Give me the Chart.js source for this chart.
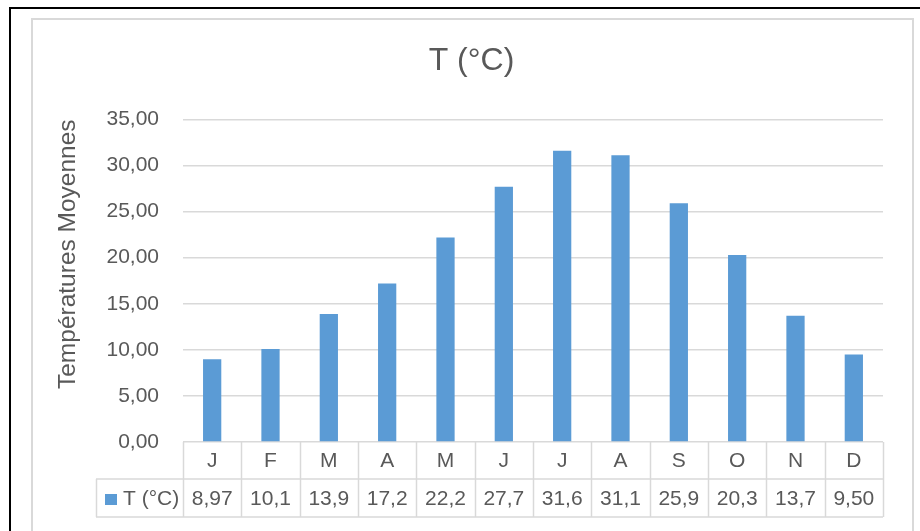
<!DOCTYPE html>
<html>
<head>
<meta charset="utf-8">
<script src="https://cdn.jsdelivr.net/npm/chart.js@4.4.1/dist/chart.umd.min.js"></script>
<style>
    body { margin: 0; background: #fff; width: 920px; height: 531px; overflow: hidden; position: relative; }
    .frame { position: absolute; left: 9px; top: 7px; width: 940px; height: 560px; border-left: 2px solid #000; border-top: 2px solid #000; }
    .box { position: absolute; left: 31px; top: 18px; width: 879px; height: 560px; border: 2px solid #d9d9d9; }
    #myChart { position: absolute; left: 32px; top: 19px; }
</style>
</head>
<body>
<div class="frame"></div>
<div class="box"></div>
<canvas id="myChart" width="879" height="512"></canvas>
<script>
const months = ['J', 'F', 'M', 'A', 'M', 'J', 'J', 'A', 'S', 'O', 'N', 'D']
const temperatures = [8.97, 10.1, 13.9, 17.2, 22.2, 27.7, 31.6, 31.1, 25.9, 20.3, 13.7, 9.50]
const seriesName = 'T (°C)'
const yTicks = [0, 5, 10, 15, 20, 25, 30, 35]

const textColor = '#595959'
const lineColor = '#d9d9d9'
const barColor = '#5b9bd5'
const fontFamily = '"Liberation Sans", Arial, sans-serif'

const frCommaFixed = (v, d) => v.toFixed(d).replace('.', ',')
const frCommaPrec = v => v.toPrecision(3).replace('.', ',')

// data table under the x axis (Excel style)
const dataTablePlugin = {
    id: 'dataTable',
    afterDraw(chart) {
        const ctx = chart.ctx
        const x = chart.scales.x
        const area = chart.chartArea
        const colW = (area.right - area.left) / months.length
        const top = area.bottom
        const mid = top + 37
        const bottom = top + 75
        const legendLeft = 64

        ctx.save()
        ctx.strokeStyle = lineColor
        ctx.lineWidth = 1.5
        ctx.beginPath()
        for (let i = 0; i <= months.length; i++) {
            const px = Math.round(area.left + i * colW) + 0.5
            ctx.moveTo(px, top)
            ctx.lineTo(px, bottom)
        }
        ctx.moveTo(legendLeft, mid)
        ctx.lineTo(area.right, mid)
        ctx.moveTo(legendLeft, bottom)
        ctx.lineTo(area.right, bottom)
        ctx.moveTo(legendLeft + 0.5, mid)
        ctx.lineTo(legendLeft + 0.5, bottom)
        ctx.stroke()

        ctx.fillStyle = textColor
        ctx.font = '21px ' + fontFamily
        ctx.textAlign = 'center'
        ctx.textBaseline = 'middle'
        months.forEach((m, i) => {
            const cx = x.getPixelForValue(i)
            ctx.fillText(m, cx, (top + mid) / 2 + 1)
            ctx.fillText(frCommaPrec(temperatures[i]), cx, (mid + bottom) / 2 + 1)
        })

        ctx.fillStyle = barColor
        ctx.fillRect(legendLeft + 9, mid + 15, 12, 11)
        ctx.fillStyle = textColor
        ctx.textAlign = 'left'
        ctx.fillText(seriesName, legendLeft + 27, (mid + bottom) / 2 + 1)
        ctx.restore()
    }
}

new Chart(document.getElementById('myChart'), {
    type: 'bar',
    data: {
        labels: months,
        datasets: [{
            label: seriesName,
            data: temperatures,
            backgroundColor: barColor,
            borderWidth: 0,
            barPercentage: 0.313,
            categoryPercentage: 1
        }]
    },
    options: {
        responsive: false,
        animation: false,
        layout: { padding: { left: 0, right: 0, top: 0, bottom: 89 } },
        plugins: {
            legend: { display: false },
            tooltip: { enabled: false },
            title: {
                display: true,
                text: seriesName,
                color: textColor,
                font: { family: fontFamily, size: 32, weight: 'normal' },
                padding: { top: 23, bottom: 39 }
            }
        },
        scales: {
            x: {
                display: false
            },
            y: {
                min: 0,
                max: 35,
                afterFit: scale => { scale.width = 151 },
                afterBuildTicks: scale => { scale.ticks = yTicks.map(v => ({ value: v })) },
                border: { display: false },
                grid: { color: lineColor, lineWidth: 1.5, drawTicks: false },
                ticks: {
                    color: textColor,
                    padding: 24,
                    font: { family: fontFamily, size: 21 },
                    callback: v => frCommaFixed(v, 2)
                },
                title: {
                    display: true,
                    text: 'Températures Moyennes',
                    align: 'end',
                    color: textColor,
                    font: { family: fontFamily, size: 24.5 },
                    padding: { top: 22, bottom: 0 }
                }
            },
            // empty right-hand margin so the title stays centred on the whole box
            yRight: {
                position: 'right',
                afterFit: scale => { scale.width = 28 },
                border: { display: false },
                grid: { display: false },
                ticks: { display: false }
            }
        }
    },
    plugins: [dataTablePlugin]
})
</script>
</body>
</html>
